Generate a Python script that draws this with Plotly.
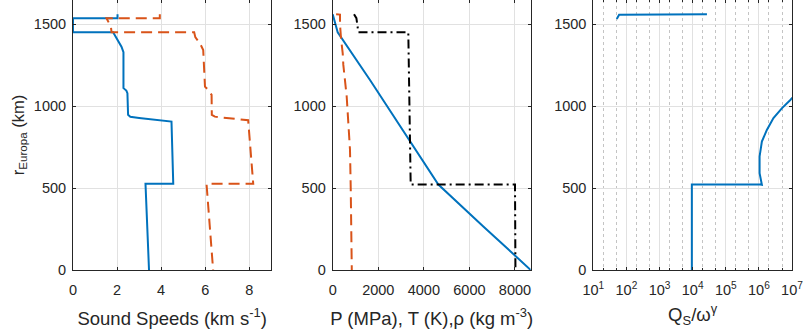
import plotly.graph_objects as go

# r (km) profiles
vs_r = [1561, 1537, 1537, 1451, 1451, 1420, 1394, 1363, 1330, 1110, 1095, 1079, 947, 935, 928, 906, 526, 526, 0]
vs = [2.02, 2.02, 0, 0, 1.82, 1.95, 2.05, 2.2, 2.29, 2.29, 2.42, 2.47, 2.5, 2.6, 3.0, 4.47, 4.55, 3.29, 3.45]

vp_r = [1561, 1537, 1537, 1485, 1451, 1451, 1421, 1384, 1343, 1119, 1099, 1069, 947, 936, 930, 914, 526, 526, 0]
vp = [3.94, 3.94, 1.52, 1.72, 1.75, 5.5, 5.55, 5.76, 5.91, 5.99, 6.14, 6.29, 6.3, 6.44, 6.8, 7.95, 8.18, 6.06, 6.36]

p_r = [1561, 1451, 1160, 784, 522, 266, 0]
p = [0, 219, 1637, 3392, 4636, 6610, 8690]

t_r = [1561, 1559, 1500, 1451, 1415, 1323, 1252, 1059, 734, 510, 63, 0]
t = [150, 320, 320, 330, 364, 439, 466, 614, 759, 790, 833, 838]

rho_r = [1561, 1537, 1451, 1451, 522, 522, 0]
rho = [935, 1040, 1125, 3318, 3422, 8000, 8020]

q_top_r = [1532, 1556, 1558, 1561]
q_top = [51, 57, 60, 27000]
q_low_r = [0, 522, 522, 520, 591, 693, 784, 855, 927, 988, 1038, 1080]
q_low = [9440, 9440, 1.1e6, 1.23e6, 1.05e6, 1.05e6, 1.23e6, 1.74e6, 2.75e6, 5.0e6, 8.9e6, 1.4e7]

BLUE = "#0072BD"
RED = "#D95319"
INK = "#262626"
FONT = "Liberation Sans, Arial, sans-serif"

fig = go.Figure()

fig.add_trace(go.Scatter(x=vs, y=vs_r, mode="lines", line=dict(color=BLUE, width=2), xaxis="x", yaxis="y"))
fig.add_trace(go.Scatter(x=vp, y=vp_r, mode="lines", line=dict(color=RED, width=2, dash="11px,6px"), xaxis="x", yaxis="y"))

fig.add_trace(go.Scatter(x=p, y=p_r, mode="lines", line=dict(color=BLUE, width=2), xaxis="x2", yaxis="y2"))
fig.add_trace(go.Scatter(x=t, y=t_r, mode="lines", line=dict(color=RED, width=2, dash="11px,6px"), xaxis="x2", yaxis="y2"))
fig.add_trace(go.Scatter(x=rho, y=rho_r, mode="lines", line=dict(color="black", width=2, dash="9px,4px,2px,4px"), xaxis="x2", yaxis="y2"))

fig.add_trace(go.Scatter(x=q_top, y=q_top_r, mode="lines", line=dict(color=BLUE, width=2), xaxis="x3", yaxis="y3"))
fig.add_trace(go.Scatter(x=q_low, y=q_low_r, mode="lines", line=dict(color=BLUE, width=2), xaxis="x3", yaxis="y3"))

common = dict(
    showline=True, linecolor=INK, linewidth=1, mirror="ticks",
    ticks="inside", ticklen=3, tickcolor=INK,
    showgrid=True, gridcolor="#e1e1e1", gridwidth=1,
    zeroline=False, automargin=False,
    tickfont=dict(family=FONT, size=14.5, color=INK),
    title_font=dict(family=FONT, size=18.5, color=INK),
)

yticks = dict(tickvals=[0, 500, 1000, 1500], range=[0, 1648], ticklabelstandoff=3)

fig.update_layout(
    width=804, height=335,
    margin=dict(l=73, r=12, t=0, b=65),
    plot_bgcolor="white", paper_bgcolor="white",
    showlegend=False,
    xaxis=dict(domain=[0, 0.2758], range=[0, 9], tickvals=[0, 2, 4, 6, 8], ticklabelstandoff=7,
               title=dict(text="Sound Speeds (km s<sup>-1</sup>)", standoff=14), anchor="y", **common),
    xaxis2=dict(domain=[0.3612, 0.6366], range=[0, 8690], tickvals=[0, 2000, 4000, 6000, 8000], ticklabelstandoff=7,
                title=dict(text="P (MPa), T (K),\u03c1 (kg m<sup>-3</sup>)", standoff=14), anchor="y2", **common),
    xaxis3=dict(domain=[0.7237, 1.0], type="log", range=[1, 7], ticklabelstandoff=7,
                tickvals=[10 ** k for k in range(1, 8)],
                ticktext=["10<sup>%d</sup>" % k for k in range(1, 8)],
                minor=dict(showgrid=True, griddash="dot", gridcolor="#c4c4c4", ticks="inside", ticklen=2, tickcolor=INK),
                title=dict(text="Q<sub>S</sub>/\u03c9<sup>\u03b3</sup>", standoff=10), anchor="y3", **common),
    yaxis=dict(domain=[0, 1], anchor="x", **yticks, **common),
    yaxis2=dict(domain=[0, 1], anchor="x2", **yticks, **common),
    yaxis3=dict(domain=[0, 1], anchor="x3", **yticks, **common),
)
fig.update_layout(yaxis_title=dict(text="r<sub>Europa</sub> (km)", standoff=5,
                                   font=dict(family=FONT, size=16.5, color=INK)))

# page body has an 8px default margin; drop it so the figure sits at the window corner
fig.write_html("out.html", config={"displayModeBar": False},
               post_script="document.body.style.margin='0px';")
